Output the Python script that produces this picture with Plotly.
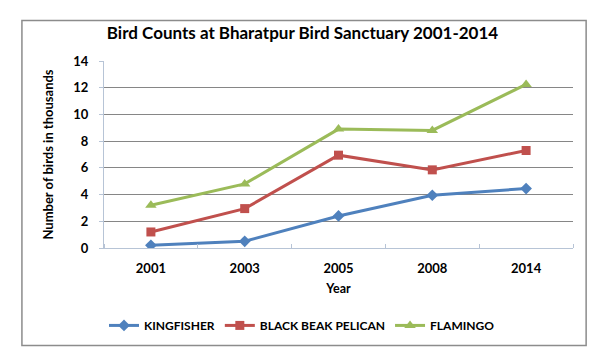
import plotly.graph_objects as go

years = ["2001", "2003", "2005", "2008", "2014"]
kingfisher = [0.2, 0.5, 2.4, 3.95, 4.45]
pelican = [1.2, 2.95, 6.95, 5.85, 7.3]
flamingo = [3.2, 4.8, 8.9, 8.8, 12.25]
y_ticks = [0, 2, 4, 6, 8, 10, 12, 14]

FONT = "Lato"
xs = list(range(len(years)))

fig = go.Figure()
series = [
    ("KINGFISHER", kingfisher, "#4F81BD", "diamond", 9),
    ("BLACK BEAK PELICAN", pelican, "#C0504D", "square", 9),
    ("FLAMINGO", flamingo, "#9BBB59", "triangle-up", 10),
]
for name, vals, col, sym, sz in series:
    fig.add_trace(go.Scatter(
        x=xs, y=vals, name="<b>%s</b>" % name, mode="lines+markers",
        line=dict(color=col, width=3),
        marker=dict(symbol=sym, size=sz, color=col),
    ))

fig.update_layout(
    width=589, height=349,
    paper_bgcolor="white", plot_bgcolor="white",
    margin=dict(l=96, r=24, t=53, b=109, autoexpand=False),
    font=dict(family=FONT, color="black", size=12),
    title=dict(text="<b>Bird Counts at Bharatpur Bird Sanctuary 2001-2014</b>",
               x=0.5, xanchor="center", y=0.928, yanchor="middle",
               font=dict(size=17, family=FONT, color="black")),
    showlegend=True,
    legend=dict(orientation="h", x=0.0, xanchor="left", y=-0.414, yanchor="middle",
                font=dict(size=12, family=FONT, color="black"),
                bgcolor="rgba(0,0,0,0)", traceorder="normal"),
    shapes=[dict(type="rect", xref="paper", yref="paper",
                 x0=-0.175, x1=1.028, y0=-0.521, y1=1.217,
                 line=dict(color="#8C8C8C", width=1.5), fillcolor="rgba(0,0,0,0)",
                 layer="below")],
)
fig.update_xaxes(
    tickmode="array", tickvals=xs, ticktext=["<b>%s</b>" % y for y in years],
    range=[-0.5, len(years) - 0.5], showgrid=False, zeroline=False,
    showline=True, linecolor="#B7C4D6", linewidth=1, ticks="",
    ticklabelstandoff=8,
    minor=dict(ticks="inside", tick0=-0.5, dtick=1, ticklen=4, tickcolor="#B7C4D6", showgrid=False),
    title=dict(text="<b>Year</b>", font=dict(size=12.5, family=FONT), standoff=9),
    tickfont=dict(size=13, family=FONT),
)
fig.update_yaxes(
    range=[0, 14], tickmode="array", tickvals=y_ticks,
    ticktext=["<b>%d</b>" % v for v in y_ticks],
    showgrid=True, gridcolor="#868686", gridwidth=1, zeroline=False,
    showline=True, linecolor="#B7C4D6", linewidth=1,
    ticks="outside", ticklen=4, tickcolor="#B7C4D6",
    ticklabelstandoff=8,
    title=dict(text="<b>Number of birds in thousands</b>", font=dict(size=13, family=FONT), standoff=16),
    tickfont=dict(size=13, family=FONT),
)

fig.write_html("out.html")
